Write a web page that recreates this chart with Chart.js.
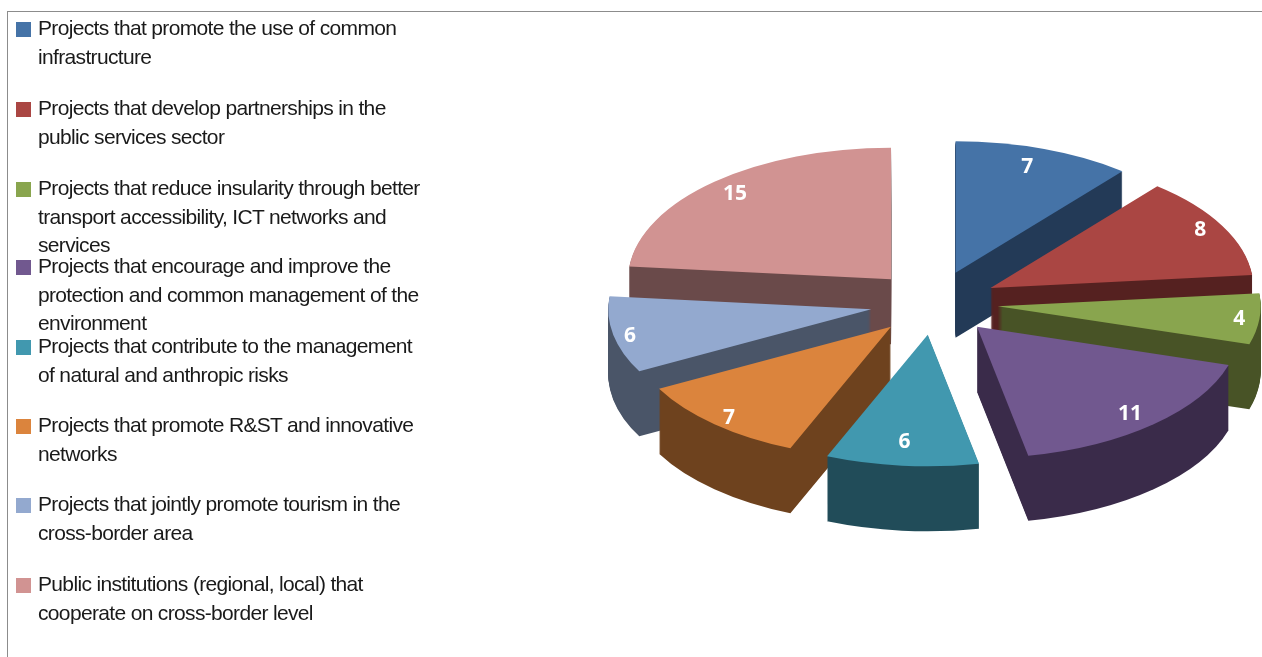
<!DOCTYPE html>
<html>
<head>
<meta charset="utf-8">
<title>Projects</title>
<script src="https://cdn.jsdelivr.net/npm/chart.js@4"></script>
<style>
    body { margin: 0; background: #fff; }
    #wrap { position: relative; width: 1262px; height: 657px; overflow: hidden; }
    #frame { position: absolute; left: 7px; top: 11px; width: 1262px; height: 660px; border-left: 1px solid #8c8c8c; border-top: 1px solid #8c8c8c; }
    #pie { position: absolute; left: 0; top: 0; }
    .item { position: absolute; left: 38px; font: 21px/28.5px "Liberation Sans", sans-serif; letter-spacing: -0.66px; color: #1a1a1a; white-space: pre-line; }
    .box { position: absolute; left: -22px; top: 8px; width: 15px; height: 15px; }
</style>
</head>
<body>
<div id="wrap">
    <div id="frame"></div>
    <canvas id="pie" width="1262" height="657"></canvas>
</div>
<script>
//chart data
var categories = [
    "Projects that promote the use of common\ninfrastructure",
    "Projects that develop partnerships in the\npublic services sector",
    "Projects that reduce insularity through better\ntransport accessibility, ICT networks and\nservices",
    "Projects that encourage and improve the\nprotection and common management of the\nenvironment",
    "Projects that contribute to the management\nof natural and anthropic risks",
    "Projects that promote R&ST and innovative\nnetworks",
    "Projects that jointly promote tourism in the\ncross-border area",
    "Public institutions (regional, local) that\ncooperate on cross-border level"
];
var values = [7, 8, 4, 11, 6, 7, 6, 15];
var topColors = ['#4573a7', '#aa4643', '#89a54e', '#71588f', '#4198af', '#db843d', '#93a9cf', '#d19392'];
var sideColors = ['#233a57', '#552120', '#485326', '#3a2b4a', '#214c59', '#6e421e', '#4a5568', '#6a4a4a'];
var legendTops = [14, 94, 174, 252, 332, 411, 490, 570];

// back slices first so the front ones cover their walls
var drawOrder = [7, 0, 1, 2, 6, 5, 3, 4];
var squash = 0.5;
var depth = 65;
var explode = 64;
// small shifts so the numbers sit where the original has them
var labelShift = [[-8, 6], [1, -2], [6, 1], [-6, 0], [0, -11], [-3, 4], [-9, 4], [3, 2]];

categories.forEach(function (name, i) {
    var item = document.createElement('div');
    item.className = 'item';
    item.style.top = legendTops[i] + 'px';
    item.textContent = name;
    var box = document.createElement('span');
    box.className = 'box';
    box.style.background = topColors[i];
    item.appendChild(box);
    document.getElementById('wrap').appendChild(item);
});

// moves the context to a slice's spot on the tilted, exploded pie
function placeSlice(ctx, el, drop) {
    var mid = (el.startAngle + el.endAngle) / 2;
    ctx.translate(el.x, el.y + drop);
    ctx.scale(1, squash);
    ctx.translate(-el.x, -el.y);
    ctx.translate(Math.cos(mid) * explode, Math.sin(mid) * explode);
}

// stacked on a spare canvas and recoloured at the end, stacking directly leaves streaks
function drawWall(chart, el, color) {
    var spare = document.createElement('canvas');
    spare.width = chart.canvas.width;
    spare.height = chart.canvas.height;
    var sctx = spare.getContext('2d');
    sctx.scale(chart.currentDevicePixelRatio, chart.currentDevicePixelRatio);
    for (var d = depth; d > 0; d--) {
        sctx.save();
        placeSlice(sctx, el, d);
        el.draw(sctx);
        sctx.restore();
    }
    sctx.globalCompositeOperation = 'source-in';
    sctx.fillStyle = color;
    sctx.fillRect(0, 0, chart.width, chart.height);
    chart.ctx.drawImage(spare, 0, 0, chart.width, chart.height);
}

var pie3d = {
    id: 'pie3d',
    beforeDatasetDraw: function (chart) {
        var ctx = chart.ctx;
        var arcs = chart.getDatasetMeta(0).data;
        drawOrder.forEach(function (i) {
            drawWall(chart, arcs[i], sideColors[i]);
            ctx.save();
            placeSlice(ctx, arcs[i], 0);
            arcs[i].draw(ctx);
            ctx.restore();
        });
        return false;
    },
    afterDatasetsDraw: function (chart) {
        var ctx = chart.ctx;
        chart.getDatasetMeta(0).data.forEach(function (el, i) {
            var mid = (el.startAngle + el.endAngle) / 2;
            var r = explode + el.outerRadius * 0.9;
            ctx.save();
            ctx.fillStyle = '#fff';
            ctx.font = 'bold 21px "Open Sans"';
            ctx.textAlign = 'center';
            ctx.textBaseline = 'middle';
            ctx.fillText(values[i], el.x + Math.cos(mid) * r + labelShift[i][0], el.y + Math.sin(mid) * r * squash + labelShift[i][1]);
            ctx.restore();
        });
    }
};

var ctx = document.getElementById('pie').getContext('2d');
var chart = new Chart(ctx, {
    type: 'pie',
    data: {
        labels: categories,
        datasets: [{
            data: values,
            backgroundColor: topColors,
            borderWidth: 0
        }]
    },
    options: {
        responsive: false,
        animation: false,
        layout: { padding: { left: 671, right: 65, top: 40, bottom: 91 } },
        plugins: { legend: { display: false }, tooltip: { enabled: false } }
    },
    plugins: [pie3d]
});
</script>
</body>
</html>
